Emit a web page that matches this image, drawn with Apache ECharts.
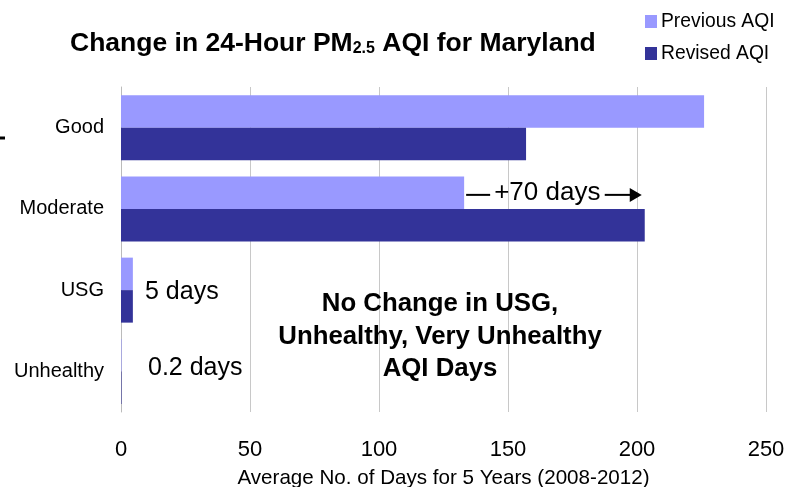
<!DOCTYPE html>
<html>
<head>
<meta charset="utf-8">
<script src="https://cdn.jsdelivr.net/npm/echarts@6/dist/echarts.min.js"></script>
<style>
html, body { margin: 0; padding: 0; background: #fff; }
#chart { width: 787px; height: 487px; }
</style>
</head>
<body>
<div id="chart"></div>
<script>
// data
var categories = ['Good', 'Moderate', 'USG', 'Unhealthy'];
var previousAQI = [226, 133, 4.6, 0.2];
var revisedAQI = [157, 203, 4.6, 0.2];
var xTicks = [0, 50, 100, 150, 200, 250];
var seriesNames = ['Previous AQI', 'Revised AQI'];

var font = 'Liberation Sans, Arial, sans-serif';
var myChart = echarts.init(document.getElementById('chart'));

var option = {
    animation: false,
    title: {
        text: '{t|Change in 24-Hour PM}{s|2.5}{t| AQI for Maryland}',
        left: 70,
        top: 30,
        padding: 0,
        textStyle: {
            rich: {
                t: { fontFamily: font, fontWeight: 'bold', fontSize: 26.5, color: '#000' },
                s: { fontFamily: font, fontWeight: 'bold', fontSize: 16, color: '#000', padding: [11, 0, 0, 0] }
            }
        }
    },
    legend: {
        orient: 'vertical',
        left: 640,
        top: 7,
        icon: 'rect',
        itemWidth: 12,
        itemHeight: 13,
        itemGap: 13,
        textStyle: { fontFamily: font, fontSize: 19.3, color: '#000', padding: [0, 0, 0, -1] },
        data: seriesNames
    },
    grid: { left: 121, right: 21, top: 87, bottom: 75, outerBoundsMode: 'none', containLabel: false },
    xAxis: {
        type: 'value',
        min: xTicks[0],
        max: xTicks[xTicks.length - 1],
        interval: xTicks[1] - xTicks[0],
        axisLine: { show: false },
        axisTick: { show: false },
        splitLine: { lineStyle: { color: '#c8c8c8', width: 1 } },
        axisLabel: { fontFamily: font, fontSize: 22, color: '#000', margin: 27 },
        name: 'Average No. of Days for 5 Years (2008-2012)',
        nameLocation: 'middle',
        nameGap: 56,
        nameTextStyle: { fontFamily: font, fontSize: 20.6, color: '#000' }
    },
    yAxis: {
        type: 'category',
        inverse: true,
        data: categories,
        axisLine: { lineStyle: { color: '#bbbbbb' } },
        axisTick: { length: 4, lineStyle: { color: '#bbbbbb' } },
        axisLabel: { fontFamily: font, fontSize: 20, color: '#000', margin: 17 }
    },
    series: [{
        name: seriesNames[0],
        type: 'bar',
        data: previousAQI,
        barGap: 0,
        barCategoryGap: '20%',
        itemStyle: { color: '#9999ff' }
    }, {
        name: seriesNames[1],
        type: 'bar',
        data: revisedAQI,
        barGap: 0,
        barCategoryGap: '20%',
        itemStyle: { color: '#333399' }
    }]
};
myChart.setOption(option);

// annotations, arrow from previous to revised Moderate value
var a0 = myChart.convertToPixel({ gridIndex: 0 }, [previousAQI[1], 'Moderate']);
var a1 = myChart.convertToPixel({ gridIndex: 0 }, [revisedAQI[1], 'Moderate']);
var ay = a0[1] - 14;
var txt = { fontFamily: font, fontSize: 25, fill: '#000' };
var bold = { fontFamily: font, fontSize: 25.8, fontWeight: 'bold', fill: '#000', textAlign: 'center', textVerticalAlign: 'middle' };

myChart.setOption({
    graphic: [
        { type: 'line', z: 100, shape: { x1: a0[0] + 2, y1: ay, x2: a0[0] + 26, y2: ay }, style: { stroke: '#000', lineWidth: 2 } },
        { type: 'text', z: 100, left: a0[0] + 30, top: ay - 15, style: Object.assign({}, txt, { text: '+70 days', fontSize: 26 }) },
        { type: 'line', z: 100, shape: { x1: a1[0] - 40, y1: ay, x2: a1[0] - 12, y2: ay }, style: { stroke: '#000', lineWidth: 2 } },
        { type: 'polygon', z: 100, shape: { points: [[a1[0] - 15, ay - 7], [a1[0] - 3, ay], [a1[0] - 15, ay + 7]] }, style: { fill: '#000' } },
        { type: 'text', z: 100, left: 145, top: 280, style: Object.assign({ text: '5 days' }, txt) },
        { type: 'text', z: 100, left: 148, top: 356, style: Object.assign({ text: '0.2 days' }, txt) },
        { type: 'text', z: 100, x: 440, y: 304, style: Object.assign({ text: 'No Change in USG,' }, bold) },
        { type: 'text', z: 100, x: 440, y: 337, style: Object.assign({ text: 'Unhealthy, Very Unhealthy' }, bold) },
        { type: 'text', z: 100, x: 440, y: 369, style: Object.assign({ text: 'AQI Days' }, bold) },
        { type: 'line', z: 100, shape: { x1: 0, y1: 138, x2: 5, y2: 138 }, style: { stroke: '#000', lineWidth: 3 } }
    ]
});
</script>
</body>
</html>
